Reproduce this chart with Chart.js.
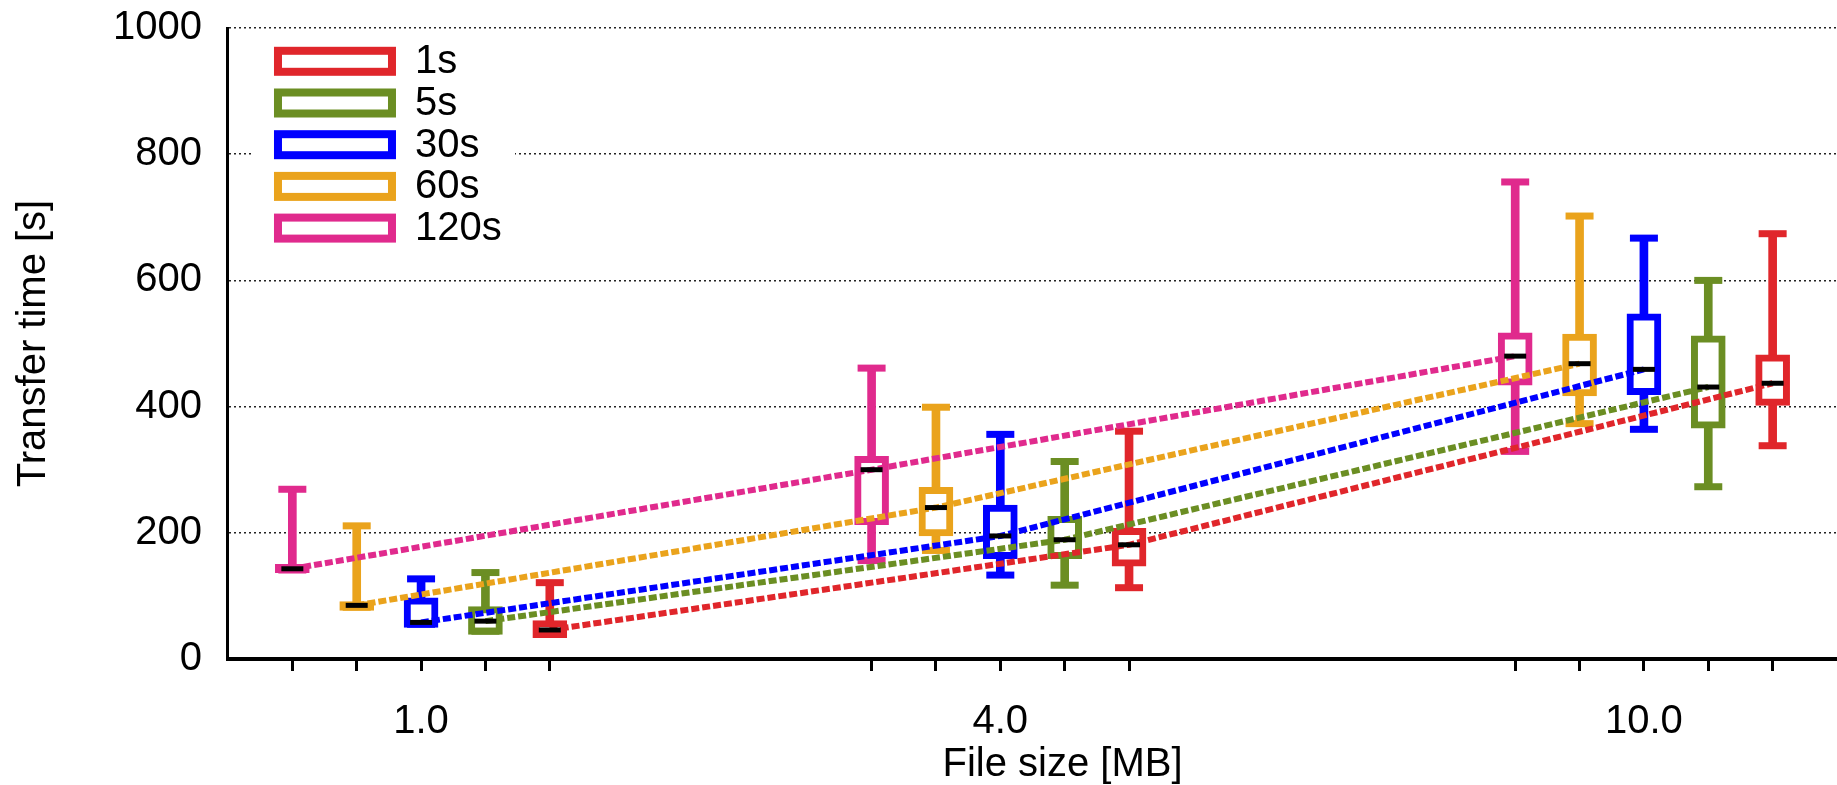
<!DOCTYPE html>
<html>
<head>
<meta charset="utf-8">
<title>Transfer time vs file size</title>
<script src="https://cdn.jsdelivr.net/npm/chart.js@4.4.1/dist/chart.umd.min.js"></script>
<style>
  html, body { margin: 0; padding: 0; background: #fff; overflow: hidden; }
  #wrap { width: 1837px; height: 785px; position: relative; }
</style>
</head>
<body>
<div id="wrap"><canvas id="transferChart"></canvas></div>
<script>
// x axis groups
const fileSizes = ['1.0', '4.0', '10.0'];
// series = interval, legend order
const intervals = ['1s', '5s', '30s', '60s', '120s'];

// transfer time [s]; one row per interval, one column per file size
const whiskerLow = [
    [39, 113, 338],
    [44, 117, 273],
    [55, 133, 364],
    [82, 172, 373],
    [141, 156, 329]
];
const boxLow = [
    [34, 147, 402],
    [39, 159, 366],
    [50, 159, 419],
    [77, 195, 417],
    [137, 213, 434]
];
const medians = [
    [46, 181, 437],
    [60, 189, 431],
    [58, 195, 459],
    [85, 240, 468],
    [143, 300, 480]
];
const boxHigh = [
    [61, 207, 482],
    [83, 226, 512],
    [97, 244, 547],
    [91, 272, 515],
    [150, 321, 517]
];
const whiskerHigh = [
    [121, 361, 674],
    [137, 313, 600],
    [127, 356, 667],
    [211, 399, 702],
    [269, 461, 756]
];
const yTicks = [0, 200, 400, 600, 800, 1000];

// layout: slot of each group on the x axis, and where each interval sits inside a group
const groupSlots = [3, 12, 22];
const slotOffset = [2, 1, 0, -1, -2];
const seriesColors = ['#e0262b', '#6b8e23', '#0000ff', '#eaa31c', '#e02a8d'];
const FONT = '"Liberation Sans", Arial, sans-serif';

const slotOf = (s, g) => groupSlots[g] + slotOffset[s];
const tickSlots = [];
groupSlots.forEach((g) => [-2, -1, 0, 1, 2].forEach((o) => tickSlots.push(g + o)));

const datasets = [];
intervals.forEach((name, s) => {
    const color = seriesColors[s];
    const groups = fileSizes.map((_, g) => g);

    // whisker stems
    datasets.push({
        type: 'bar',
        label: name + ' whisker',
        data: groups.map((g) => ({ x: slotOf(s, g), y: [whiskerLow[s][g], whiskerHigh[s][g]] })),
        backgroundColor: color,
        borderWidth: 0,
        barThickness: 8,
        grouped: false,
        order: 4
    });
    // boxes
    datasets.push({
        type: 'bar',
        label: name,
        data: groups.map((g) => ({ x: slotOf(s, g), y: [boxLow[s][g], boxHigh[s][g]] })),
        backgroundColor: '#ffffff',
        borderColor: color,
        borderWidth: 7,
        borderSkipped: false,
        barThickness: 34,
        grouped: false,
        order: 3
    });
    // whisker caps
    datasets.push({
        type: 'line',
        label: name + ' caps',
        data: groups.flatMap((g) => [
            { x: slotOf(s, g), y: whiskerLow[s][g] },
            { x: slotOf(s, g), y: whiskerHigh[s][g] }
        ]),
        showLine: false,
        pointStyle: 'line',
        pointRadius: 14,
        pointBorderWidth: 7,
        pointBorderColor: color,
        order: 2
    });
    // dashed median trend
    datasets.push({
        type: 'line',
        label: name + ' trend',
        data: groups.map((g) => ({ x: slotOf(s, g), y: medians[s][g] })),
        borderColor: color,
        borderWidth: 6,
        borderDash: [8, 3],
        pointRadius: 0,
        tension: 0,
        order: 1
    });
    // median marks
    datasets.push({
        type: 'line',
        label: name + ' median',
        data: groups.map((g) => ({ x: slotOf(s, g), y: medians[s][g] })),
        showLine: false,
        pointStyle: 'line',
        pointRadius: 11,
        pointBorderWidth: 5,
        pointBorderColor: '#000000',
        order: 0
    });
});

// legend drawn inside the plot, stacked in one column
const insideLegend = {
    id: 'insideLegend',
    afterDatasetsDraw(chart) {
        const { ctx, chartArea } = chart;
        const x0 = chartArea.left;
        const y0 = chartArea.top;
        ctx.save();
        ctx.fillStyle = '#ffffff';
        ctx.fillRect(x0 + 25, y0 + 10, 262, 218);
        intervals.forEach((name, i) => {
            const cy = y0 + 33.3 + i * 41.7;
            ctx.lineWidth = 8;
            ctx.strokeStyle = seriesColors[i];
            ctx.strokeRect(x0 + 50, cy - 10.5, 114, 21);
            ctx.fillStyle = '#000000';
            ctx.font = '40px ' + FONT;
            ctx.textBaseline = 'middle';
            ctx.textAlign = 'left';
            ctx.fillText(name, x0 + 187, cy + 1);
        });
        ctx.restore();
    }
};

// x axis title sits a little right of the plot centre in the original
const xTitle = {
    id: 'xTitle',
    afterDraw(chart) {
        const { ctx, chartArea } = chart;
        ctx.save();
        ctx.fillStyle = '#000000';
        ctx.font = '40px ' + FONT;
        ctx.textAlign = 'center';
        ctx.textBaseline = 'middle';
        ctx.fillText('File size [MB]', (chartArea.left + chartArea.right) / 2 + 30, chart.height - 20);
        ctx.restore();
    }
};

const ctx = document.getElementById('transferChart').getContext('2d');
new Chart(ctx, {
    type: 'bar',
    data: { datasets: datasets },
    plugins: [insideLegend, xTitle],
    options: {
        responsive: true,
        maintainAspectRatio: false,
        animation: false,
        events: [],
        layout: { autoPadding: false, padding: { top: 28, left: 0, right: 0, bottom: 12 } },
        plugins: {
            legend: { display: false },
            tooltip: { enabled: false }
        },
        scales: {
            x: {
                type: 'linear',
                min: 0,
                max: 25,
                offset: false,
                afterBuildTicks: (axis) => {
                    axis.ticks = tickSlots.map((v) => ({ value: v }));
                },
                ticks: {
                    autoSkip: false,
                    maxRotation: 0,
                    padding: 27,
                    color: '#000000',
                    font: { family: FONT, size: 40, lineHeight: 1.2 },
                    callback: (value) => {
                        const i = groupSlots.indexOf(value);
                        return i >= 0 ? fileSizes[i] : '';
                    }
                },
                grid: {
                    offset: false,
                    drawOnChartArea: false,
                    drawTicks: true,
                    tickLength: 12,
                    tickWidth: 3,
                    tickColor: '#000000'
                },
                border: { color: '#000000', width: 4 },
                title: { display: false }
            },
            y: {
                min: 0,
                max: 1000,
                afterBuildTicks: (axis) => {
                    axis.ticks = yTicks.map((v) => ({ value: v }));
                },
                ticks: {
                    padding: 26,
                    color: '#000000',
                    font: { family: FONT, size: 40, lineHeight: 0.05 },
                    callback: (value) => String(value)
                },
                grid: {
                    color: '#222222',
                    lineWidth: 1.5,
                    drawTicks: false
                },
                border: { color: '#000000', width: 3, dash: [2, 3] },
                title: {
                    display: true,
                    text: 'Transfer time [s]',
                    color: '#000000',
                    font: { family: FONT, size: 40, lineHeight: 1 },
                    padding: { top: 14, bottom: 33 }
                }
            }
        }
    }
});
</script>
</body>
</html>
